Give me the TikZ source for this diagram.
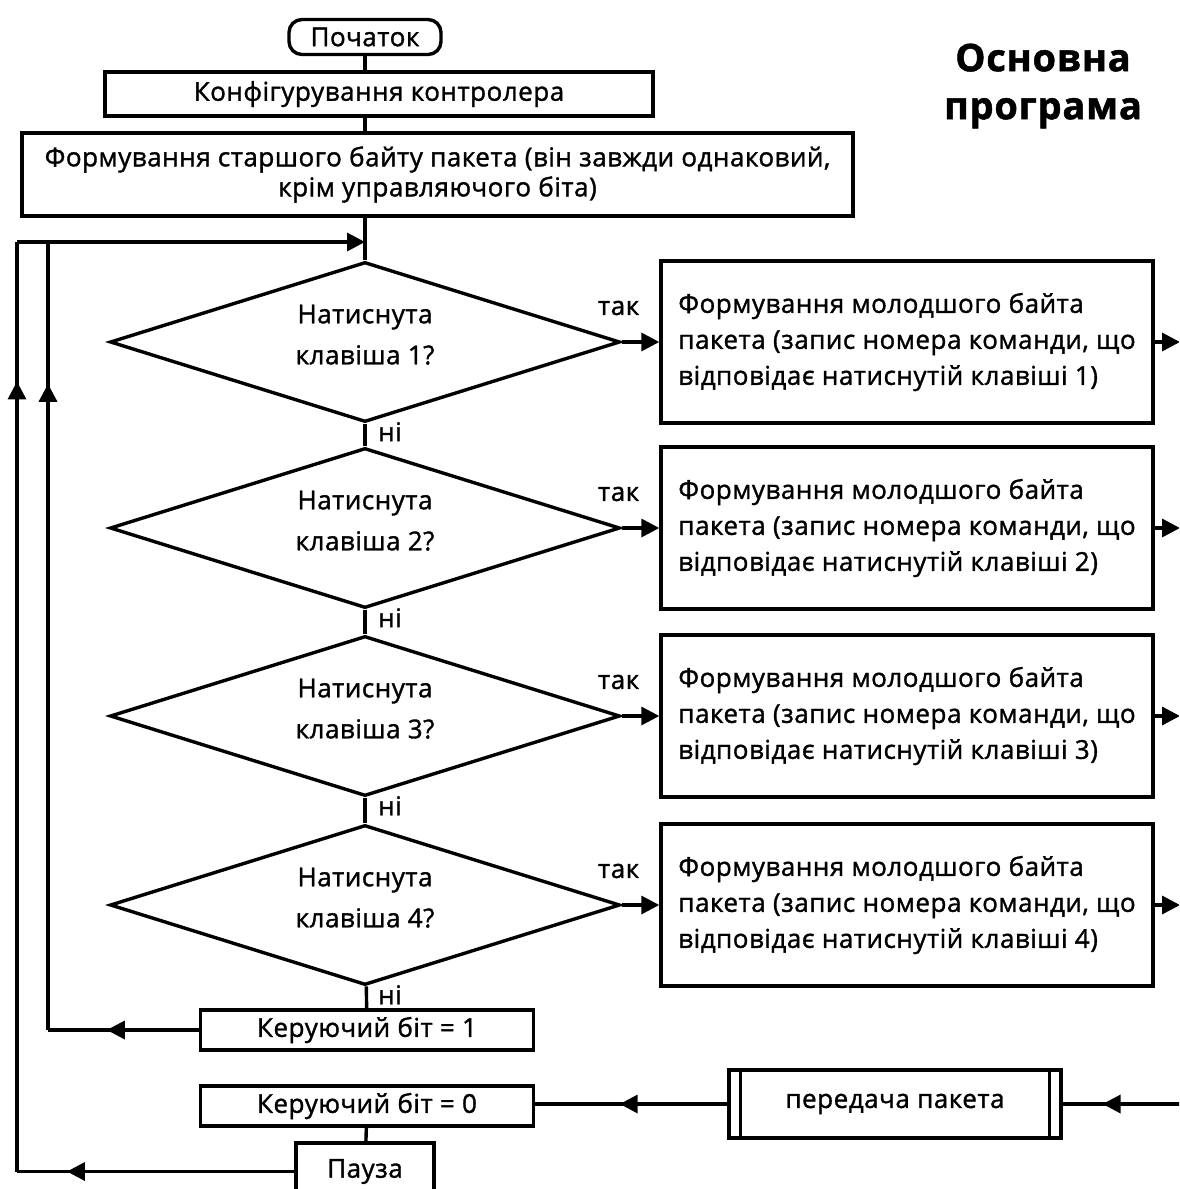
\documentclass[tikz,border=0pt]{standalone}
\usepackage{fontspec}
\setmainfont{Open Sans}[FakeBold=1.3, LetterSpace=2.0]
\usetikzlibrary{arrows.meta,positioning,calc,shapes.geometric,decorations.markings}
\newcommand{\txt}{\fontsize{26}{36}\selectfont}
\newcommand{\asktxt}{\fontsize{26}{41}\selectfont}
\newcommand{\hitxt}{\fontsize{26}{30}\selectfont}
\tikzset{
  >={Triangle[length=18pt,width=18pt]},
  term/.style={draw, line width=3.4pt, rounded corners=13pt, inner sep=0pt, font=\txt},
  proc/.style={draw, line width=3.4pt, inner sep=0pt, align=center, font=\txt},
  ask/.style={draw, diamond, aspect=3.2, line width=3.4pt, inner sep=0pt,
              minimum width=510pt, minimum height=160pt, align=center, font=\asktxt},
  act/.style={draw, line width=3.4pt, minimum width=492pt, minimum height=162pt,
              inner sep=0pt, align=left, font=\txt},
  lbl/.style={font=\txt, inner sep=1pt},
  flow/.style={line width=3.4pt},
  midarr/.style={postaction={decorate, decoration={markings,
      mark=at position #1 with {\arrow{>}}}}},
  ttl/.style={font=\fontsize{38}{48}\selectfont\bfseries, align=center},
}

\begin{document}
\begin{tikzpicture}[x=1pt, y=-1pt]
  \useasboundingbox (0,0) rectangle (1179,1189);
  \fill[white] (0,0) rectangle (1179,1189);
  \clip (0,0) rectangle (1179,1189);

  \node[ttl] (title) at (1043,86) {Основна\\програма};

  % main column
  \node[term, minimum width=152pt, minimum height=35pt] (start) at (365,37) {Початок};
  \node[proc, minimum width=548pt, minimum height=44pt] (cfg) at (379,94) {Конфігурування контролера};
  \node[proc, minimum width=831pt, minimum height=83pt, font=\hitxt] (hibyte) at (437.5,174.5)
    {Формування старшого байту пакета (він завжди однаковий,\\крім управляючого біта)};
  \foreach \i/\y in {1/342, 2/528, 3/716, 4/905} {
    \node[ask] (q\i) at (365,\y) {Натиснута\\клавіша \i?\\[-26pt]};
    \node[act] (b\i) at (907,\y) {Формування молодшого байта\\пакета (запис номера команди, що\\відповідає натиснутій клавіші \i)};
    \node[lbl] (y\i) at ([xshift=-3pt,yshift=34pt]q\i.east) {так};
    \node[lbl] (n\i) at ([xshift=25pt,yshift=-8pt]q\i.south) {ні};
  }
  \node[proc, minimum width=333pt, minimum height=40pt] (k1) at (367,1030) {Керуючий біт = 1};
  \node[proc, minimum width=333pt, minimum height=40pt] (k0) at (367,1106) {Керуючий біт = 0};
  \node[proc, minimum width=138pt, minimum height=57pt] (pause) at (365,1171.5) {Пауза};
  \node[proc, minimum width=332pt, minimum height=68pt] (send) at (895,1104) {передача пакета};
  \draw[flow] ([xshift=13pt]send.north west) -- ([xshift=13pt]send.south west);
  \draw[flow] ([xshift=-13pt]send.north east) -- ([xshift=-13pt]send.south east);

  \coordinate (join) at (365,242);
  \coordinate (inL) at (48,242);
  \coordinate (outL) at (17,242);
  \coordinate (edge) at (1180,1104);

  % connectors
  \draw[flow] (start.south) -- (start.south |- cfg.north);
  \draw[flow] (cfg.south -| start.south) -- (hibyte.north -| start.south);
  \draw[flow] (hibyte.south -| q1.north) -- (q1.north);
  \draw[flow] (q1) -- (q2);
  \draw[flow] (q2) -- (q3);
  \draw[flow] (q3) -- (q4);
  \draw[flow] (q4) -- (k1);
  \draw[flow] (k0) -- (pause);
  \foreach \i in {1,...,4} {
    \draw[flow, ->] (q\i.east) -- (b\i.west);
    \draw[flow, ->] (b\i.east) -- (b\i.east -| edge);
  }
  \draw[flow, midarr=0.66] (edge) -- (send.east);
  \draw[flow, midarr=0.56] (send.west) -- (send.west -| k0.east);
  \draw[flow, midarr=0.61] (k1.west) -- (k1.west -| inL);
  \draw[flow, midarr=0.82] (k1.west -| inL) -- (inL);
  \draw[flow, midarr=0.82] (pause.west) -- (pause.west -| outL);
  \draw[flow, midarr=0.85] (pause.west -| outL) -- (outL);
  \draw[flow, ->] (outL) -- (join);
\end{tikzpicture}
\end{document}
